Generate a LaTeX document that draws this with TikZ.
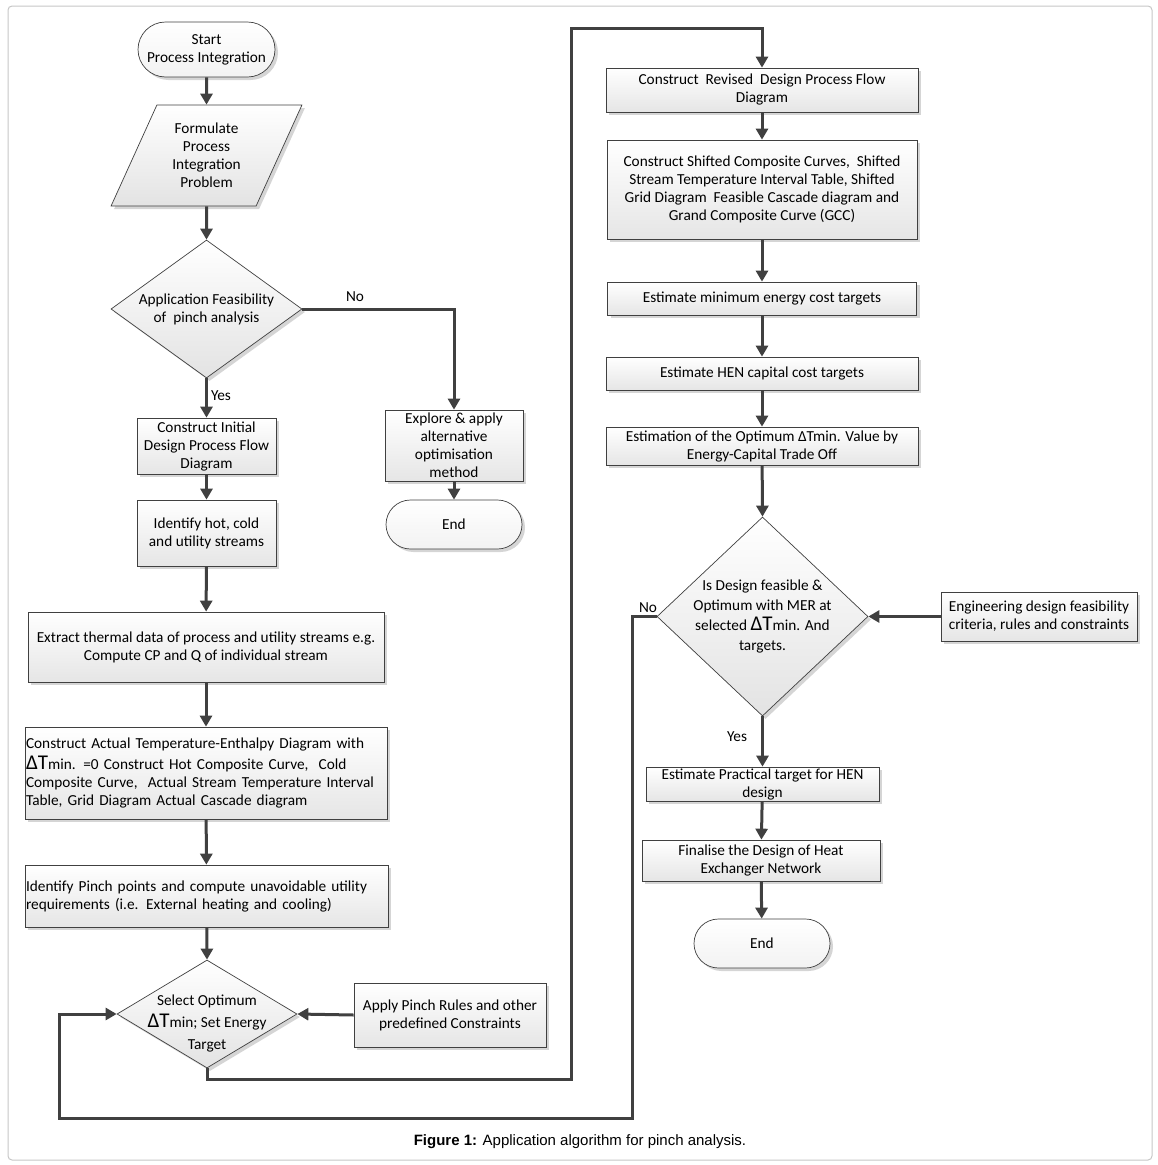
\documentclass[tikz,border=0pt]{standalone}
\usepackage{fontspec}
\setmainfont{Carlito}
\newfontfamily\capfont{Liberation Sans}
\usetikzlibrary{shapes.geometric,shapes.misc,shadows,arrows.meta}
\definecolor{dk}{RGB}{64,64,64}
\newcommand{\bigdT}{{\fontsize{21}{21}\selectfont ΔT}}
\begin{document}
\begin{tikzpicture}[x=1pt,y=-1pt,
  every node/.style={font=\fontsize{15.3}{18}\selectfont, text=black},
  shad/.style={drop shadow={shadow xshift=3pt,shadow yshift=-3pt,fill=gray!60,opacity=0.55}},
  box/.style={rectangle, draw=dk, line width=0.7pt, top color=white, bottom color=gray!20, shad, align=center, inner sep=1pt},
  term/.style={rounded rectangle, draw=dk, line width=0.7pt, top color=white, bottom color=gray!10, shad, align=center, inner sep=1pt},
  dia/.style={diamond, draw=dk, line width=0.7pt, top color=white, bottom color=gray!22, shad, inner sep=0pt},
  para/.style={trapezium, trapezium left angle=64, trapezium right angle=116, trapezium stretches=true, draw=dk, line width=0.7pt, top color=white, bottom color=gray!22, shad, align=center, inner sep=0pt},
  arr/.style={draw=dk, line width=3pt, -{Triangle[length=11pt,width=12pt]}},
  lbl/.style={font=\fontsize{15.3}{16}\selectfont, inner sep=0pt}
]
\useasboundingbox (0,0) rectangle (1158,1165);
\draw[gray!45, line width=1pt, rounded corners=4pt] (8,6) rectangle (1152,1160);

% left column
\node[term, minimum width=139pt, minimum height=55pt] (start) at (206.5,49.5) {Start\\Process Integration};
\node[para, minimum width=191pt, minimum height=101pt] (form) at (206.5,155.5) {Formulate\\Process\\Integration\\Problem};
\node[dia, minimum width=191pt, minimum height=138pt,
  label={[align=center,font=\fontsize{15.3}{18}\selectfont]center:Application Feasibility\\of~ pinch analysis}] (feas) at (206.5,309) {};
\node[box, minimum width=139pt, minimum height=56pt] (init) at (206.5,446) {Construct Initial\\Design Process Flow\\Diagram};
\node[box, minimum width=138pt, minimum height=71pt] (explore) at (454,445.5) {Explore \& apply\\alternative\\optimisation\\method};
\node[term, minimum width=138pt, minimum height=49pt] (endA) at (454,524.5) {End};
\node[box, minimum width=139pt, minimum height=66pt] (ident) at (206.5,533) {Identify hot, cold\\and utility streams};
\node[box, minimum width=356pt, minimum height=70pt] (extract) at (206,647) {Extract thermal data of process and utility streams e.g.\\Compute CP and Q of individual stream};
\node[box, minimum width=362pt, minimum height=92pt, align=left, text width=360pt, inner sep=1pt] (actual) at (206,773) {Construct Actual Temperature-Enthalpy Diagram with\\[3pt]\bigdT{}min. =0 Construct Hot Composite Curve,~ Cold\\Composite Curve,~ Actual Stream Temperature Interval\\Table, Grid Diagram Actual Cascade diagram};
\node[box, minimum width=363pt, minimum height=62pt, align=left, text width=361pt, inner sep=1pt] (pinch) at (206.5,896) {Identify Pinch points and compute unavoidable utility\\requirements (i.e. External heating and cooling)};
\node[dia, minimum width=180pt, minimum height=108pt,
  label={[align=center,font=\fontsize{15.3}{22}\selectfont,yshift=-9pt]center:Select Optimum\\\bigdT{}min; Set Energy\\Target}] (sel) at (207,1014) {};
\node[box, minimum width=192pt, minimum height=64pt] (apply) at (450,1015) {Apply Pinch Rules and other\\predefined Constraints};

% right column
\node[box, minimum width=312pt, minimum height=44pt] (revised) at (762,90) {Construct~ Revised~ Design Process Flow\\Diagram};
\node[box, minimum width=310pt, minimum height=99pt] (shifted) at (762,189.5) {Construct Shifted Composite Curves,~ Shifted\\Stream Temperature Interval Table, Shifted\\Grid Diagram~ Feasible Cascade diagram and\\Grand Composite Curve (GCC)};
\node[box, minimum width=309pt, minimum height=33pt] (minen) at (762,298.5) {Estimate minimum energy cost targets};
\node[box, minimum width=312pt, minimum height=33pt] (hencap) at (762,373.5) {Estimate HEN capital cost targets};
\node[box, minimum width=312pt, minimum height=38pt] (optim) at (762,446) {Estimation of the Optimum ΔTmin. Value by\\Energy-Capital Trade Off};
\node[dia, minimum width=211pt, minimum height=199pt,
  label={[align=center,font=\fontsize{15.3}{20}\selectfont]center:Is Design feasible \&\\Optimum with MER at\\selected \bigdT{}min. And\\targets.}] (feasB) at (762.5,616.5) {};
\node[box, minimum width=196pt, minimum height=49pt] (eng) at (1039,616.5) {Engineering design feasibility\\criteria, rules and constraints};
\node[box, minimum width=233pt, minimum height=34pt] (pract) at (762.5,784) {Estimate Practical target for HEN\\design};
\node[box, minimum width=238pt, minimum height=41pt] (final) at (761,860.5) {Finalise the Design of Heat\\Exchanger Network};
\node[term, minimum width=138pt, minimum height=49pt] (endB) at (762,943.5) {End};

% connectors
\draw[arr] (start) -- (form);
\draw[arr] (form) -- (feas);
\draw[arr] (feas.south) -- node[lbl, right=3pt, pos=0.45] {Yes} (init.north);
\draw[arr] (feas.east) -| (explore.north);
\node[lbl] (noA) at (355,297) {No};
\draw[arr] (explore) -- (endA);
\draw[arr] (init) -- (ident);
\draw[arr] (ident) -- (extract);
\draw[arr] (extract) -- (actual);
\draw[arr] (actual) -- (pinch);
\draw[arr] (pinch) -- (sel.north);
\draw[arr] (apply.west) -- (sel.east);
\coordinate (up1) at (571,1079);
\coordinate (up2) at (762,28);
\draw[arr] (sel.south) |- (up1) |- (up2) -- (revised.north);
\draw[arr] (revised) -- (shifted);
\draw[arr] (shifted) -- (minen);
\draw[arr] (minen) -- (hencap);
\draw[arr] (hencap) -- (optim);
\draw[arr] (optim) -- (feasB.north);
\draw[arr] (eng.west) -- (feasB.east);
\draw[arr] (feasB.south) -- (pract.north);
\node[lbl] (yesB) at (737,737) {Yes};
\draw[arr] (pract) -- (final);
\draw[arr] (final) -- (endB);
\coordinate (lp1) at (632,1118);
\coordinate (lp2) at (59,1014);
\draw[arr] (feasB.west) -| (lp1) -| (lp2) -- (sel.west);
\node[lbl] (noB) at (648,608) {No};

\node[font=\capfont\fontsize{15}{17}\selectfont] (cap) at (580,1142) {\textbf{Figure 1:} Application algorithm for pinch analysis.};
\end{tikzpicture}
\end{document}
